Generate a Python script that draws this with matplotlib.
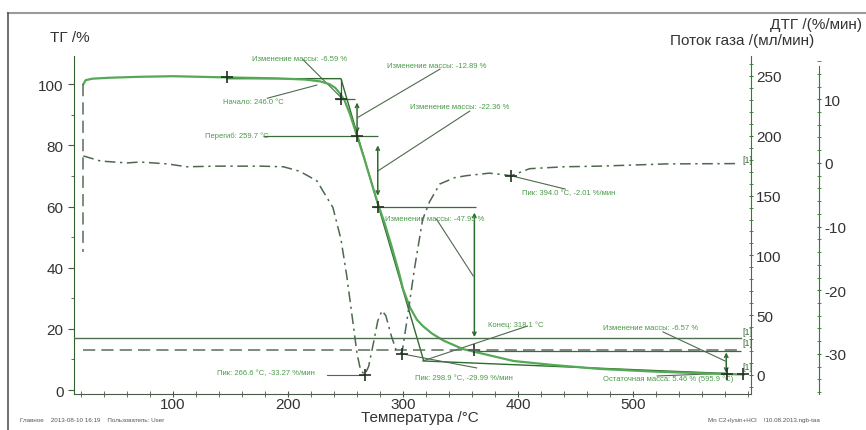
import numpy as np
import matplotlib
matplotlib.use("Agg")
import matplotlib.pyplot as plt
from matplotlib.ticker import MultipleLocator
from matplotlib.lines import Line2D

plt.rcParams['font.family'] = ['Liberation Sans', 'DejaVu Sans']
plt.rcParams['axes.unicode_minus'] = False

# ТГ, %
temp_tg = [22, 24, 30, 45, 70, 100, 147, 190, 215, 228, 236, 241, 245, 249, 254,
           260, 266, 272, 278, 284, 290, 296, 300, 306, 312, 317, 325, 335, 352,
           370, 396, 430, 471, 520, 582, 596]
tg = [100.0, 101.3, 101.8, 102.1, 102.4, 102.6, 102.2, 101.9, 101.5, 100.9, 100.0,
      98.8, 97.0, 94.8, 90.0, 83.0, 76.0, 68.5, 61.0, 54.5, 47.0, 39.0, 33.0, 27.0,
      23.0, 21.0, 18.5, 16.2, 13.4, 11.8, 9.5, 8.2, 6.9, 6.0, 5.2, 5.1]

# ДТГ, %/мин
temp_dtg = [22, 37, 60, 71, 95, 112, 138, 176, 196, 210, 225, 239, 246, 251, 256,
            260, 263, 266.6, 270, 274, 278, 281.7, 285, 290, 294, 298.9, 303.5, 310,
            317, 323, 332, 345, 355, 375, 385, 394, 410, 440, 471, 529, 590]
dtg = [1.1, 0.3, 0.0, 0.15, -0.15, -0.6, -0.5, -0.5, -0.6, -1.3, -2.8, -7.0, -12.0,
       -17.7, -24.5, -30.0, -32.5, -33.27, -32.0, -28.5, -24.8, -23.2, -24.0, -27.3,
       -29.4, -29.99, -24.6, -16.5, -8.9, -6.1, -3.3, -2.3, -2.0, -1.6, -1.8, -2.01,
       -0.9, -0.6, -0.5, -0.15, -0.1]

# поток газа, мл/мин
temp_gas1 = [21.5, 21.5, 21.5, 21.5, 594]
gas1 = [243, 103, np.nan, 21, 21]
temp_gas2 = [14, 594]
gas2 = [31, 31]

# касательные и ступени
temp_tan = [147, 246, 318, 582]
tg_tan = [101.8, 101.8, 9.5, 5.4]
tg_marks_t = [147, 246, 260, 278, 362, 582, 596]
tg_marks_v = [102.2, 95.3, 83.0, 60.0, 13.0, 5.2, 5.2]
peaks_t = [266.6, 298.9, 394.0]
peaks_v = [-33.27, -29.99, -2.01]

GREEN = '#55a855'
DARK = '#2f6b2f'
GREY = '#5a6e5a'
TXT = '#4a9a4a'

fig = plt.figure(figsize=(8.66, 4.31), dpi=100)
ax = fig.add_axes([0.0855, 0.0835, 0.7818, 0.7842])
ax.set_xlim(13.9, 602.6)
ax.set_ylim(-1.3, 109.2)
for s in ['top', 'right']:
    ax.spines[s].set_visible(False)
ax.spines['left'].set_color('#2f5f2f')
ax.spines['bottom'].set_color('#4a5a4a')
ax.xaxis.set_major_locator(MultipleLocator(100))
ax.xaxis.set_minor_locator(MultipleLocator(20))
ax.yaxis.set_major_locator(MultipleLocator(20))
ax.yaxis.set_minor_locator(MultipleLocator(10))
ax.tick_params(axis='both', which='both', labelsize=11, labelcolor='#333333', color='#4a5a4a')
ax.tick_params(axis='x', which='both', direction='inout', length=4, pad=0)
ax.tick_params(axis='y', which='major', length=4)
ax.tick_params(axis='y', which='minor', length=2)
ax.set_xticks([100, 200, 300, 400, 500])

gas = ax.twinx()
gas.set_ylim(-15.9, 266.7)
for s in ['top', 'left', 'bottom']:
    gas.spines[s].set_visible(False)
gas.spines['right'].set_color('#2f7f2f')
gas.yaxis.set_major_locator(MultipleLocator(50))
gas.yaxis.set_minor_locator(MultipleLocator(10))
gas.set_yticks([0, 50, 100, 150, 200, 250])
gas.tick_params(axis='y', which='both', direction='inout', color='#2f7f2f',
                labelsize=11, labelcolor='#333333', pad=2)
gas.tick_params(axis='y', which='minor', length=3)

dt = ax.twinx()
dt.set_ylim(-36.3, 16.8)
for s in ['top', 'left', 'bottom']:
    dt.spines[s].set_visible(False)
dt.spines['right'].set_position(('axes', 1.10))
dt.spines['right'].set_color('#2f7f2f')
dt.spines['right'].set_bounds(-36.3, 15.2)
dt.yaxis.set_major_locator(MultipleLocator(10))
dt.yaxis.set_minor_locator(MultipleLocator(2))
dt.tick_params(axis='y', which='both', direction='inout', color='#2f7f2f',
               labelsize=11, labelcolor='#333333', pad=2)
dt.tick_params(axis='y', which='minor', length=3)

# кривые
ax.plot(temp_tg, tg, color=GREEN, lw=1.6, zorder=4)
ax.plot(temp_tan, tg_tan, color=DARK, lw=1.0, zorder=3)
gas.plot(temp_gas1, gas1, color=GREY, lw=1.1, ls=(0, (8, 4)))
gas.plot(temp_gas2, gas2, color='#4f704f', lw=1.0)
dt.plot(temp_dtg, dtg, color='#4e684e', lw=1.1, ls=(0, (7, 3, 1.5, 3)))

# ступени
ax.hlines([95.3, 83.2, 60.0, 12.6], [241, 178, 274, 361], [258, 278, 363, 594],
          color='#3d6a3d', lw=0.9)
ax.vlines(246, 95.3, 101.8, color=DARK, lw=0.9)
arrow = dict(arrowstyle='<->', color=DARK, lw=1.1, shrinkA=0, shrinkB=0,
             mutation_scale=6)
for xa, y1, y2 in [(260, 94.0, 84.0), (278, 80.0, 63.5), (362, 58.0, 17.3), (581, 12.3, 5.6)]:
    ax.annotate('', xy=(xa, y2), xytext=(xa, y1), arrowprops=arrow)
ax.plot(tg_marks_t, tg_marks_v, ls='none', marker='+', ms=8, mew=1.2, color='#223322', zorder=5)
dt.plot(peaks_t, peaks_v, ls='none', marker='+', ms=8, mew=1.2, color='#223322', zorder=5)

# подписи
lead = dict(color='#4f6a4f', lw=0.8)
notes = [
    ('Изменение массы: -6.59 %', 169, 108.4, (213, 108.0), (247, 95.3)),
    ('Изменение массы: -12.89 %', 286, 106.0, (332, 104.9), (261, 89.2)),
    ('Начало: 246.0 °C', 143, 94.4, (182, 95.4), (225, 99.7)),
    ('Перегиб: 259.7 °C', 128, 83.2, None, None),
    ('Изменение массы: -22.36 %', 306, 92.6, (358, 91.2), (278, 71.6)),
    ('Изменение массы: -47.95 %', 284, 56.2, (329, 55.9), (361, 37.3)),
    ('Конец: 318.1 °C', 374, 21.6, (408, 20.9), (317, 9.5)),
    ('Изменение массы: -6.57 %', 474, 20.3, (526, 19.0), (580, 9.5)),
    ('Остаточная масса: 5.46 % (595.9 °C)', 474, 3.9, (521, 4.6), (582, 5.5)),
]
for txt, tx, ty, p1, p2 in notes:
    ax.text(tx, ty, txt, fontsize=5.5, color=TXT, va='center', ha='left')
    if p1 is not None:
        ax.plot([p1[0], p2[0]], [p1[1], p2[1]], **lead)

dnotes = [
    ('Пик: 266.6 °C, -33.27 %/мин', 138, -33.0, (234, -33.27), (266.6, -33.27)),
    ('Пик: 298.9 °C, -29.99 %/мин', 310, -33.7, (364, -32.2), (298.9, -29.99)),
    ('Пик: 394.0 °C, -2.01 %/мин', 403, -4.6, (441, -4.1), (394.0, -2.01)),
]
for txt, tx, ty, p1, p2 in dnotes:
    dt.text(tx, ty, txt, fontsize=5.5, color=TXT, va='center', ha='left')
    dt.plot([p1[0], p2[0]], [p1[1], p2[1]], **lead)

for ty in [19.3, 15.7, 7.8]:
    ax.text(595, ty, '[1]', fontsize=6.5, color='#3d6a3d', va='center')
dt.text(595, 0.6, '[1]', fontsize=6.5, color='#3d6a3d', va='center')

# заголовки осей
fig.text(50 / 866, 1 - 38 / 431, 'ТГ /%', fontsize=11, color='#333333', va='center')
fig.text(770 / 866, 1 - 25 / 431, 'ДТГ /(%/мин)', fontsize=11, color='#333333', va='center')
fig.text(670 / 866, 1 - 41 / 431, 'Поток газа /(мл/мин)', fontsize=11, color='#333333', va='center')
fig.text(420 / 866, 1 - 418 / 431, 'Температура /°C', fontsize=11, color='#333333',
         va='center', ha='center')
fig.text(20 / 866, 1 - 421 / 431, 'Главное    2013-08-10 16:19    Пользователь: User',
         fontsize=4.5, color='#555555', va='center')
fig.text(708 / 866, 1 - 421 / 431, 'Mn C2+lysin+HCl    !10.08.2013.ngb-taa',
         fontsize=4.5, color='#555555', va='center')

# рамка
fig.add_artist(Line2D([8 / 866, 1], [1 - 14 / 431, 1 - 14 / 431], color='#9a9a9a', lw=1.5))
fig.add_artist(Line2D([8 / 866, 8 / 866], [0, 1 - 14 / 431], color='#555555', lw=1.2))

fig.savefig('out.png', dpi=100)
